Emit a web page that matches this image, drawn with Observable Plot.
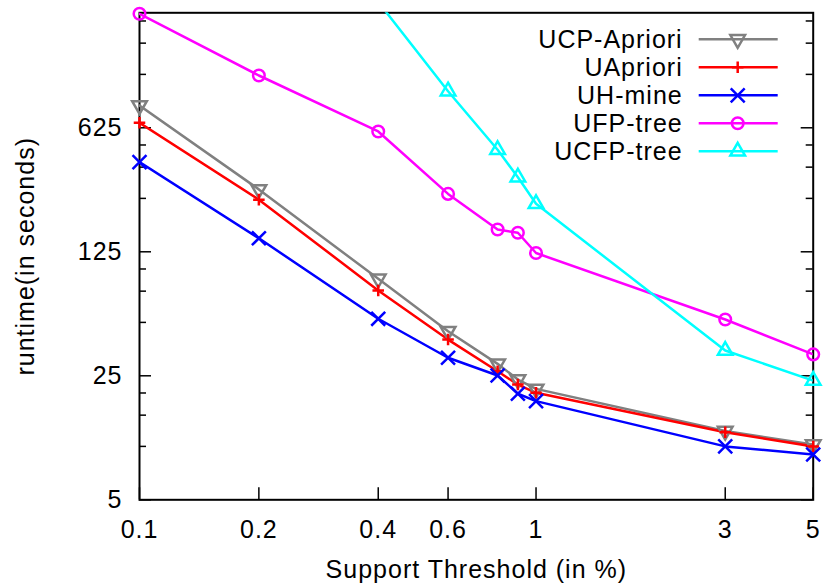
<!DOCTYPE html>
<html>
<head>
<meta charset="utf-8">
<script src="https://cdn.jsdelivr.net/npm/d3@7"></script>
<script src="https://cdn.jsdelivr.net/npm/@observablehq/plot@0.6"></script>
<style>
html, body { margin: 0; padding: 0; background: #fff; }
#chart svg { display: block; }
</style>
</head>
<body>
<div id="chart"></div>
<script>
// ---- data ----
const support = [0.1, 0.2, 0.4, 0.6, 0.8, 0.9, 1, 3, 5];
const ucpApriori = [835, 281, 88, 44.6, 29.2, 23.8, 21.1, 12.2, 10.25];
const uApriori = [667, 246, 75.7, 40, 26.5, 22.3, 20.05, 12.0, 10.0];
const uhMine = [400, 149, 52.4, 31.6, 25.1, 19.8, 18.0, 10.0, 9.0];
const ufpTree = [2746, 1232, 596, 265, 167, 160, 123, 51.9, 33.0];
const ucfpSupport = [0.4, 0.6, 0.8, 0.9, 1, 3, 5];
const ucfpTree = [3200, 1005, 470, 329, 233, 34.7, 23.5];

const seriesNames = ["UCP-Apriori", "UApriori", "UH-mine", "UFP-tree", "UCFP-tree"];
const seriesX = [support, support, support, support, ucfpSupport];
const seriesY = [ucpApriori, uApriori, uhMine, ufpTree, ucfpTree];

const xTicks = [0.1, 0.2, 0.4, 0.6, 1, 3, 5];
const xTickLabels = ["0.1", "0.2", "0.4", "0.6", "1", "3", "5"];
const yTicks = [5, 25, 125, 625];
const yTickLabels = ["5", "25", "125", "625"];
const yMinorTicks = [10, 15, 20, 50, 75, 100, 250, 375, 500, 1250, 1875, 2500];
const xDomain = [0.1, 5];
const yDomain = [5, 2780];

const xLabel = "Support Threshold (in %)";
const yLabel = "runtime(in seconds)";

// ---- styles ----
const seriesColors = ["#808080", "#ff0000", "#0000ff", "#ff00ff", "#00ffff"];
const seriesSymbols = ["triangle2", "plus", "times", "circle", "triangle2"];
const seriesRadii = [7, 3.8, 6.4, 5.8, 7];
const seriesRotate = [180, 0, 0, 0, 0];

const W = 828, H = 588;
const mL = 139, mR = 15.3, mT = 12.3, mB = 88.7;
const plotW = W - mL - mR, plotH = H - mT - mB;
const fontFamily = "'Liberation Sans', Arial, Helvetica, sans-serif";

const rows = seriesNames.flatMap((name, i) =>
  seriesX[i].map((x, j) => ({series: name, x, y: seriesY[i][j]}))
);

const d3Symbols = {
  triangle2: d3.symbolTriangle2,
  plus: d3.symbolPlus,
  times: d3.symbolTimes,
  circle: d3.symbolCircle
};

function legendMark(index, scales, values, dims) {
  const g = d3.create("svg:g");
  const right = dims.width - dims.marginRight;
  seriesNames.forEach((name, i) => {
    const y = dims.marginTop + 27 + 28 * i;
    g.append("text")
      .attr("x", right - 130)
      .attr("y", y)
      .attr("dy", "0.35em")
      .attr("text-anchor", "end")
      .attr("fill", "black")
      .text(name);
    g.append("line")
      .attr("x1", right - 114).attr("x2", right - 35)
      .attr("y1", y).attr("y2", y)
      .attr("stroke", seriesColors[i])
      .attr("stroke-width", 2.5);
    g.append("path")
      .attr("d", d3.symbol(d3Symbols[seriesSymbols[i]], Math.PI * seriesRadii[i] ** 2)())
      .attr("transform", `translate(${right - 75},${y}) rotate(${seriesRotate[i]})`)
      .attr("fill", "none")
      .attr("stroke", seriesColors[i])
      .attr("stroke-width", 2.5);
  });
  return g.node();
}

const lineMarks = seriesNames.map((name, i) =>
  Plot.line(rows.filter(d => d.series === name), {
    x: "x", y: "y", stroke: seriesColors[i], strokeWidth: 2.5, clip: true
  })
);
const dotMarks = seriesNames.map((name, i) =>
  Plot.dot(rows.filter(d => d.series === name && d.y <= yDomain[1]), {
    x: "x", y: "y", stroke: seriesColors[i], strokeWidth: 2.5,
    symbol: seriesSymbols[i], r: seriesRadii[i], rotate: seriesRotate[i], fill: "none"
  })
);

const chart = Plot.plot({
  width: W,
  height: H,
  marginLeft: mL,
  marginRight: mR,
  marginTop: mT,
  marginBottom: mB,
  style: {fontFamily, fontSize: "25px", letterSpacing: "1px", background: "white", color: "black"},
  x: {type: "log", domain: xDomain, axis: null},
  y: {type: "log", domain: yDomain, axis: null},
  marks: [
    // tick labels and axis titles
    Plot.text(xTicks, {x: d => d, frameAnchor: "bottom", lineAnchor: "top", dy: 20,
      text: (d, i) => xTickLabels[i], fill: "black"}),
    Plot.text(yTicks, {y: d => d, frameAnchor: "left", textAnchor: "end", dx: -17,
      text: (d, i) => yTickLabels[i], fill: "black"}),
    Plot.text([xLabel], {frameAnchor: "bottom", lineAnchor: "bottom", dy: 78,
      text: d => d, fill: "black"}),
    Plot.text([yLabel], {frameAnchor: "left", rotate: -90, textAnchor: "middle", lineAnchor: "top", dx: -123,
      text: d => d, fill: "black"}),
    // inward ticks (left, right, bottom)
    Plot.tickY(yTicks, {y: d => d, insetRight: plotW - 12, stroke: "black", strokeWidth: 1.5}),
    Plot.tickY(yMinorTicks, {y: d => d, insetRight: plotW - 7, stroke: "black", strokeWidth: 1.5}),
    Plot.tickY(yTicks, {y: d => d, insetLeft: plotW - 12, stroke: "black", strokeWidth: 1.5}),
    Plot.tickY(yMinorTicks, {y: d => d, insetLeft: plotW - 7, stroke: "black", strokeWidth: 1.5}),
    Plot.tickX(xTicks, {x: d => d, insetTop: plotH - 12, stroke: "black", strokeWidth: 1.5}),
    Plot.frame({stroke: "black", strokeWidth: 2}),
    ...lineMarks,
    ...dotMarks,
    legendMark
  ]
});

document.getElementById("chart").appendChild(chart);
</script>
</body>
</html>
